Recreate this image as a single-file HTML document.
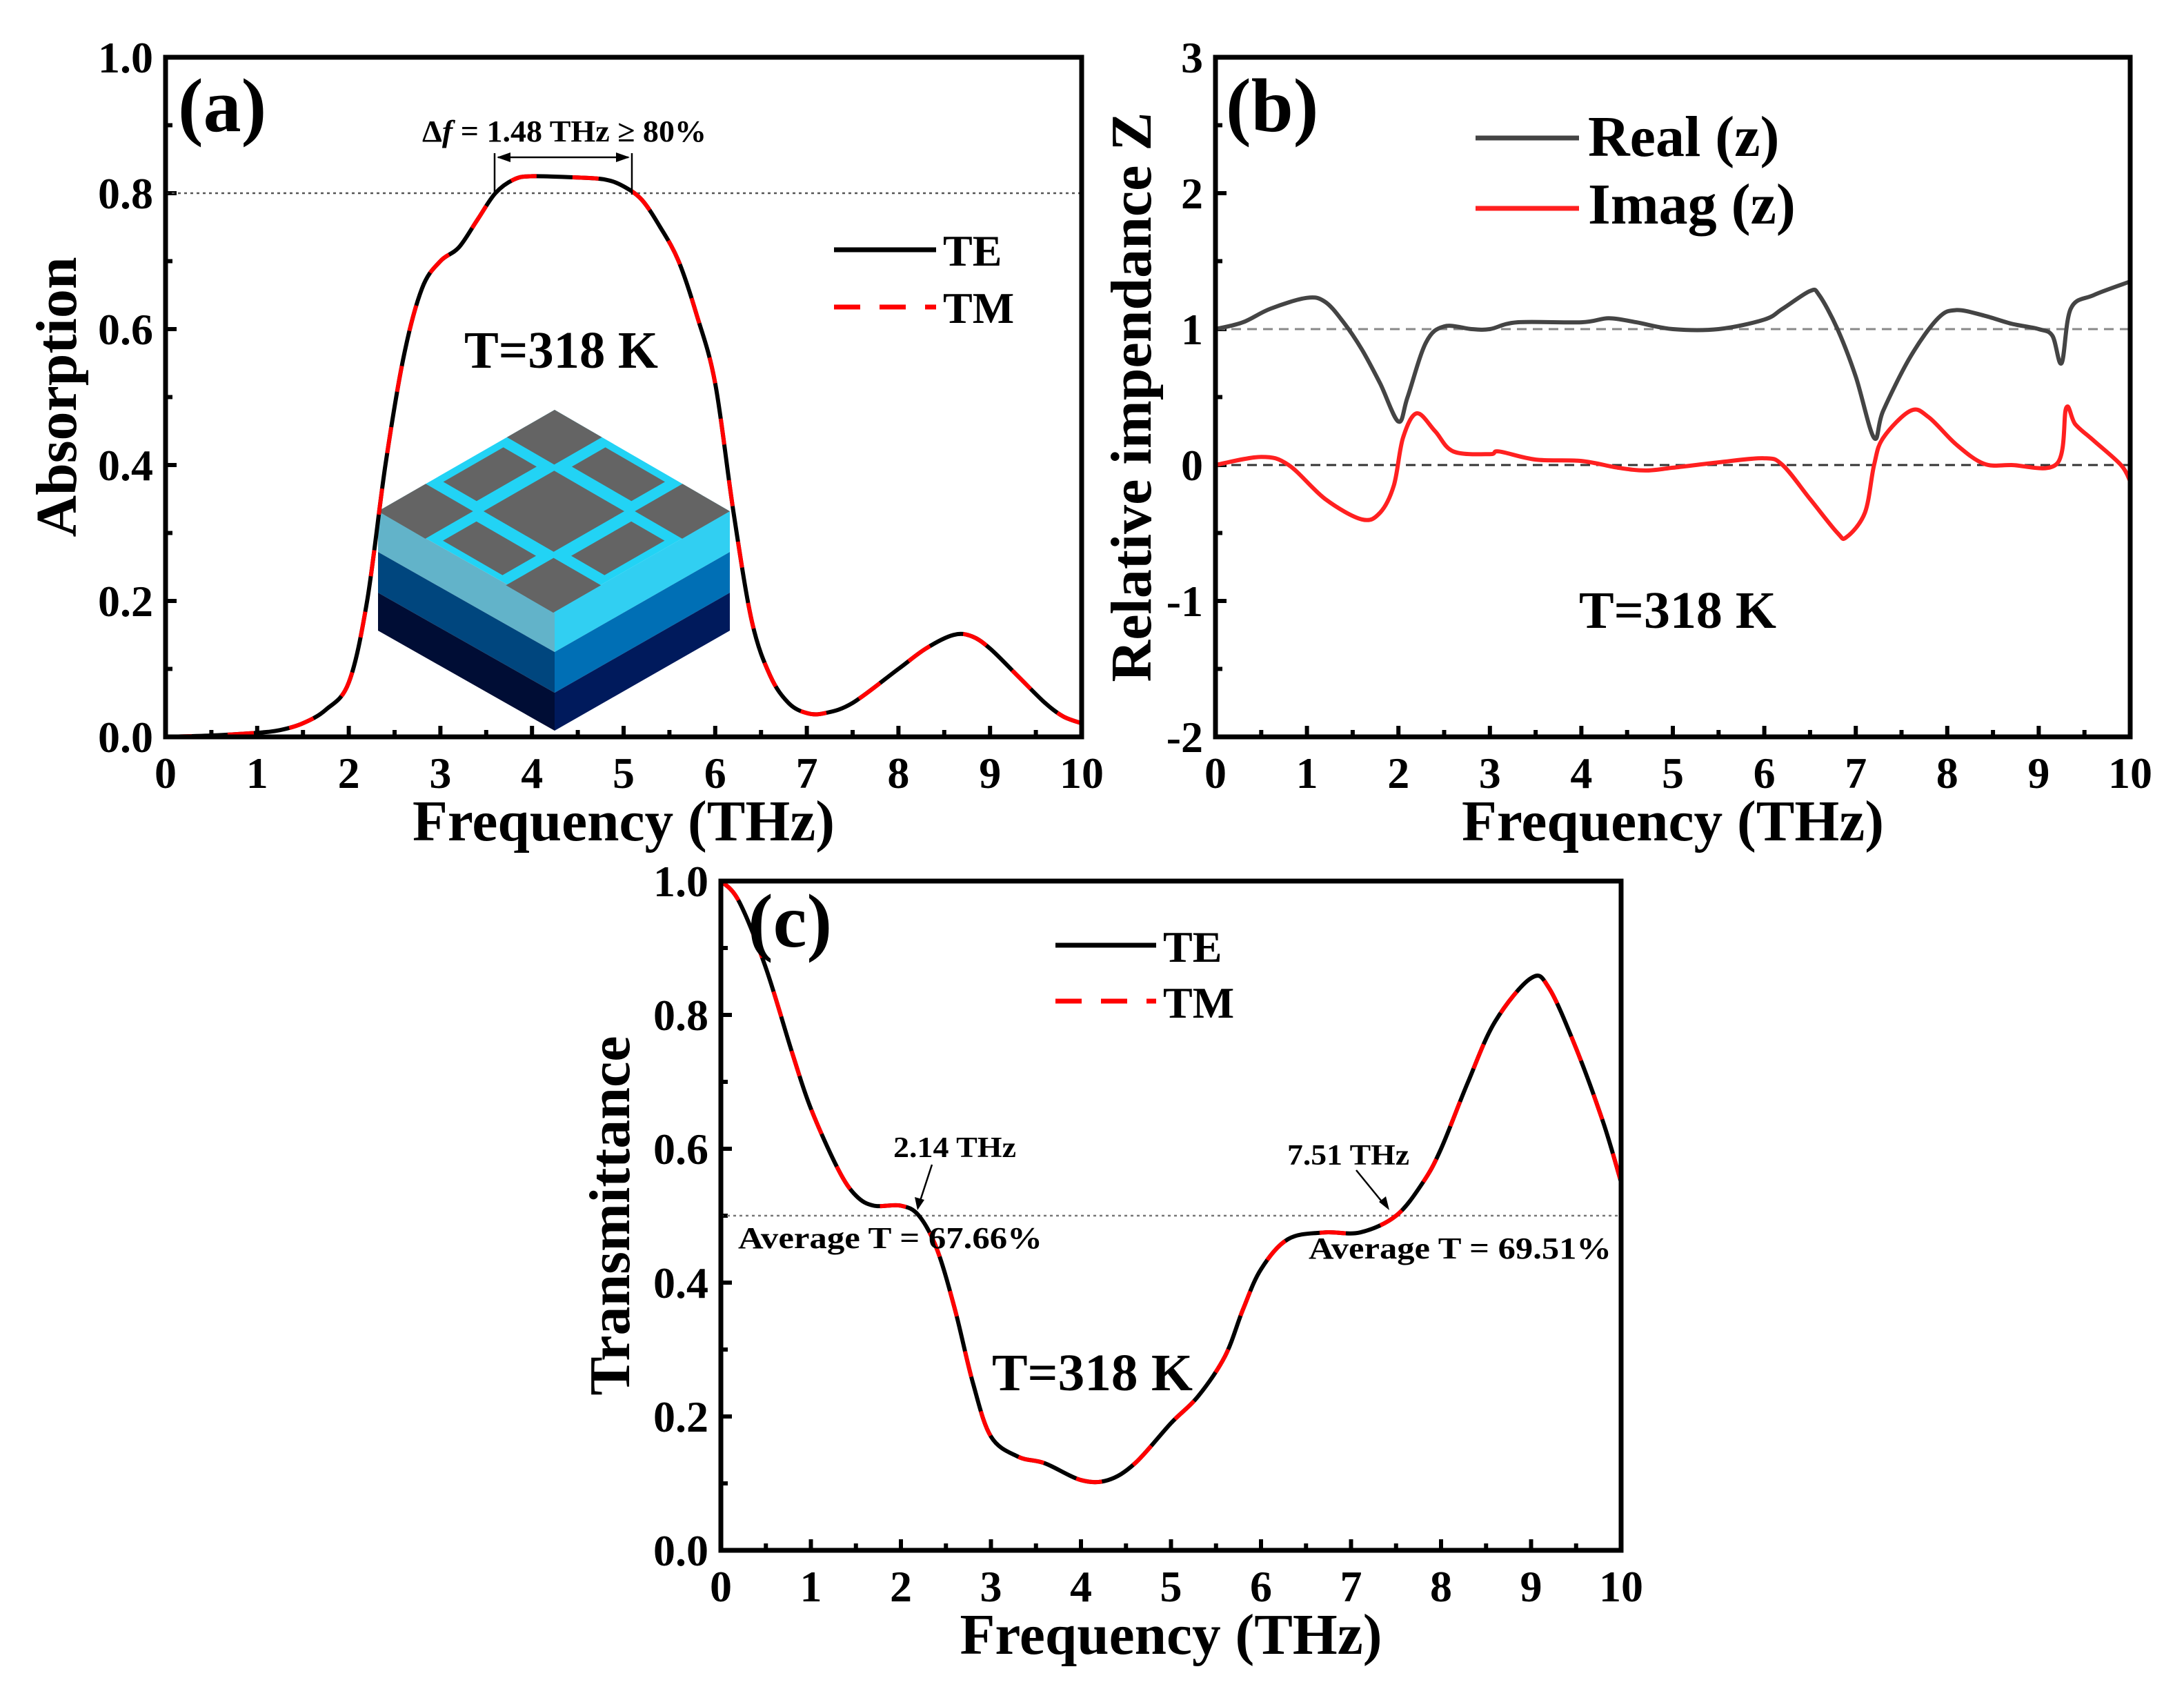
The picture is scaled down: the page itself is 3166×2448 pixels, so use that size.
<!DOCTYPE html>
<html><head><meta charset="utf-8">
<style>
html,body{margin:0;padding:0;background:#fff;}
svg{display:block;}
text{font-family:"Liberation Serif",serif;font-weight:bold;fill:#000;}
</style></head>
<body>
<svg id="fig" width="3166" height="2448" viewBox="0 0 3166 2448" xmlns="http://www.w3.org/2000/svg">
<g id="layer"></g>
</svg>
<script>
// ---- Panel (a) data: absorption ----
const freqA = [0,0.5,1,1.25,1.5,1.75,2,2.2,2.4,2.6,2.8,3,3.2,3.4,3.6,3.8,4,4.5,4.8,5,5.2,5.4,5.6,5.8,6,6.2,6.4,6.6,6.8,7,7.2,7.5,8,8.3,8.6,8.8,9,9.3,9.6,9.8,10];
const absTE = [0,0.002,0.006,0.01,0.02,0.04,0.08,0.2,0.4,0.56,0.66,0.70,0.72,0.76,0.80,0.82,0.825,0.823,0.82,0.81,0.79,0.75,0.70,0.62,0.52,0.33,0.17,0.09,0.05,0.035,0.035,0.05,0.10,0.13,0.15,0.148,0.13,0.09,0.05,0.03,0.02];
const ticksA_y = ["0.0","0.2","0.4","0.6","0.8","1.0"];
const ticksX = ["0","1","2","3","4","5","6","7","8","9","10"];
// ---- Panel (b) data: impedance ----
const freqReal = [0,0.3,0.6,1,1.2,1.4,1.6,1.8,2.0,2.1,2.3,2.5,2.8,3,3.3,4,4.3,4.6,5,5.5,6,6.2,6.5,6.6,6.8,7,7.2,7.3,7.6,7.9,8.1,8.4,8.7,9,9.15,9.25,9.35,9.6,10];
const zReal = [1.0,1.05,1.15,1.23,1.2,1.05,0.85,0.6,0.32,0.5,0.9,1.02,1.0,1.0,1.05,1.05,1.08,1.05,1.0,1.0,1.07,1.15,1.28,1.25,1.0,0.65,0.2,0.4,0.8,1.08,1.14,1.1,1.04,1.0,0.95,0.75,1.15,1.25,1.35];
const freqImag = [0,0.5,0.8,1.2,1.6,1.8,1.95,2.05,2.2,2.4,2.6,3,3.1,3.5,4,4.4,4.7,5,5.5,6,6.2,6.5,6.8,6.9,7.1,7.2,7.3,7.6,7.8,8.1,8.4,8.7,9.2,9.3,9.4,9.6,9.9,10];
const zImag = [0,0.06,0.0,-0.25,-0.4,-0.35,-0.15,0.2,0.38,0.25,0.1,0.08,0.1,0.04,0.03,-0.02,-0.04,-0.02,0.02,0.05,0.0,-0.25,-0.5,-0.53,-0.35,0.0,0.2,0.4,0.35,0.15,0.01,0.0,0.01,0.42,0.3,0.18,0.0,-0.12];
const ticksB_y = ["-2","-1","0","1","2","3"];
// ---- Panel (c) data: transmittance ----
const freqC = [0,0.2,0.5,0.8,1,1.3,1.5,1.7,2,2.2,2.4,2.6,2.8,3,3.3,3.6,4,4.3,4.6,5,5.3,5.6,5.8,6,6.3,6.7,7.1,7.5,7.8,8,8.3,8.6,9,9.2,9.5,9.8,10];
const transTE = [1.0,0.97,0.87,0.74,0.66,0.57,0.53,0.515,0.515,0.5,0.45,0.36,0.25,0.17,0.14,0.13,0.105,0.105,0.13,0.19,0.23,0.29,0.36,0.42,0.465,0.475,0.475,0.5,0.55,0.6,0.7,0.79,0.855,0.84,0.75,0.64,0.55];
const ticksC_y = ["0.0","0.2","0.4","0.6","0.8","1.0"];

const NS="http://www.w3.org/2000/svg";
const layer=document.getElementById('layer');
function mk(tag,attrs,parent){const e=document.createElementNS(NS,tag);for(const k in attrs)e.setAttribute(k,attrs[k]);(parent||layer).appendChild(e);return e;}
function txt(s,x,y,size,anchor,parent){const t=mk('text',{x:x,y:y,'font-size':size,'text-anchor':anchor||'start'},parent);t.textContent=s;return t;}
function smoothPath(xs,ys,sx,sy){
  const P=xs.map((v,i)=>[sx(v),sy(ys[i])]);
  let d='M'+P[0][0].toFixed(1)+','+P[0][1].toFixed(1);
  for(let i=0;i<P.length-1;i++){
    const p0=P[Math.max(i-1,0)],p1=P[i],p2=P[i+1],p3=P[Math.min(i+2,P.length-1)];
    const c1=[p1[0]+(p2[0]-p0[0])/6,p1[1]+(p2[1]-p0[1])/6];
    const c2=[p2[0]-(p3[0]-p1[0])/6,p2[1]-(p3[1]-p1[1])/6];
    d+=' C'+c1[0].toFixed(1)+','+c1[1].toFixed(1)+' '+c2[0].toFixed(1)+','+c2[1].toFixed(1)+' '+p2[0].toFixed(1)+','+p2[1].toFixed(1);
  }
  return d;
}
function axes(name,L,R,T,B,ymin,ymax,yt,xTitle,yTitle,yTitleX){
  const g=mk('g',{});
  
  
  const sx=v=>L+(v-0)/(10-0)*(R-L);
  const sy=v=>B-(v-ymin)/(ymax-ymin)*(B-T);
  for(let i=0;i<=20;i++){const v=i*0.5;const x=sx(v);const len=(i%2===0)?16:10;
    mk('line',{x1:x,y1:B,x2:x,y2:B-len,stroke:'#000','stroke-width':6},g);}
  const ny=yt.length-1;
  for(let i=0;i<=ny*2;i++){const v=ymin+i*(ymax-ymin)/(ny*2);const y=sy(v);const len=(i%2===0)?16:10;
    mk('line',{x1:L,y1:y,x2:L+len,y2:y,stroke:'#000','stroke-width':6},g);}
  ticksX.forEach((s,i)=>{const t=txt(s,sx(i),B+74,64,'middle',g);
    
    });
  yt.forEach((s,i)=>{const t=txt(s,L-18,sy(ymin+i*(ymax-ymin)/ny)+22,64,'end',g);
    
    });
  const xt=mk('text',{x:(L+R)/2,y:B+150,'font-size':84,'text-anchor':'middle',textLength:612,lengthAdjust:'spacingAndGlyphs'},g);
  xt.textContent=xTitle;
  
  
  const ytl=mk('text',{x:0,y:0,'font-size':84,'text-anchor':'middle',transform:'translate('+yTitleX+','+((T+B)/2)+') rotate(-90)'},g);
  ytl.textContent=yTitle;
  
  
  return {g,sx,sy,L,R,T,B};
}
function frame(p){mk('rect',{x:p.L,y:p.T,width:p.R-p.L,height:p.B-p.T,fill:'none',stroke:'#000','stroke-width':7},p.g);}
function series(p,xs,ys,name,color,dash,w){
  const e=mk('path',{d:smoothPath(xs,ys,p.sx,p.sy),fill:'none',stroke:color,'stroke-width':w||6,'stroke-dasharray':dash||'none','stroke-linejoin':'round'},p.g);
  
  
}
function legendLine(p,x1,x2,y,color,dash,label,lx,ly,size,name){
  const g=mk('g',{},p.g);
  
  
  mk('line',{x1:x1,y1:y,x2:x2,y2:y,stroke:color,'stroke-width':7,'stroke-dasharray':dash||'none'},g);
  txt(label,lx,ly,size,'start',g);
}

// ===== Panel (a) =====
const pa=axes('panel-a-absorption',240,1568,83,1068,0,1,ticksA_y,'Frequency (THz)','Absorption',110);
mk('line',{x1:pa.L,y1:pa.sy(0.8),x2:pa.R,y2:pa.sy(0.8),stroke:'#555','stroke-width':2.5,'stroke-dasharray':'4,5'},pa.g);
(function(){
  const g=mk('g',{},pa.g);
  
  
  const T=[804,594],Lv=[548,741],Rv=[1058,741],F=[804,886];
  const H=[59,59,55];
  function poly(pts,fill){mk('polygon',{points:pts.map(p=>p[0]+','+p[1]).join(' '),fill:fill},g);}
  const lc=['#62b3c9','#00467e','#000d35'],rc=['#31cff2','#006fb5','#001a5c'];
  let off=0;
  for(let i=0;i<3;i++){
    poly([[Lv[0],Lv[1]+off],[F[0],F[1]+off],[F[0],F[1]+off+H[i]],[Lv[0],Lv[1]+off+H[i]]],lc[i]);
    poly([[F[0],F[1]+off],[Rv[0],Rv[1]+off],[Rv[0],Rv[1]+off+H[i]],[F[0],F[1]+off+H[i]]],rc[i]);
    off+=H[i];
  }
  poly([T,Rv,F,Lv],'#22d3f5');
  const pt=(u,v)=>[T[0]+u*(Lv[0]-T[0])+v*(Rv[0]-T[0]),T[1]+u*(Lv[1]-T[1])+v*(Rv[1]-T[1])];
  function sq(u0,u1,v0,v1){poly([pt(u0,v0),pt(u0,v1),pt(u1,v1),pt(u1,v0)],'#646464');}
  const cells=[[0.0,0.27],[0.33,0.67],[0.73,1.0]];
  const thin=[[0.04,0.23],[0.33,0.67],[0.77,0.96]];
  for(let i=0;i<3;i++)for(let j=0;j<3;j++){
    if(i===1&&j===1){sq(0.3,0.7,0.3,0.7);}
    else if(i!==1&&j!==1){sq(cells[i][0],cells[i][1],cells[j][0],cells[j][1]);}
    else if(i===1){sq(0.33,0.67,thin[j][0],thin[j][1]);}
    else{sq(thin[i][0],thin[i][1],0.33,0.67);}
  }
})();
series(pa,freqA,absTE,'te-absorption-line','#000',null,6);
series(pa,freqA,absTE,'tm-absorption-line','#ff0000','38,52',6);
frame(pa);
(function(){
  const g=mk('g',{},pa.g);
  
  
  mk('line',{x1:717,y1:222,x2:717,y2:282,stroke:'#000','stroke-width':2.5},g);
  mk('line',{x1:916,y1:222,x2:916,y2:282,stroke:'#000','stroke-width':2.5},g);
  mk('line',{x1:722,y1:228,x2:911,y2:228,stroke:'#000','stroke-width':2.5},g);
  mk('polygon',{points:'720,228 740,221 740,235',fill:'#000'},g);
  mk('polygon',{points:'913,228 893,221 893,235',fill:'#000'},g);
  const t=mk('text',{x:612,y:205,'font-size':44,textLength:412,lengthAdjust:'spacingAndGlyphs'},g);
  t.innerHTML='Δ<tspan font-style="italic">f</tspan> = 1.48 THz ≥ 80%';
})();
const pl=txt('(a)',258,190,110,'start',pa.g);


const tka=mk('text',{x:673,y:533,'font-size':76,textLength:281,lengthAdjust:'spacingAndGlyphs'},pa.g);
tka.textContent='T=318 K';


legendLine(pa,1209,1357,362,'#000',null,'TE',1367,385,64,'legend-entry-te');
legendLine(pa,1209,1357,445,'#ff0000','38,28','TM',1367,468,64,'legend-entry-tm');

// ===== Panel (b) =====
const pb=axes('panel-b-impedance',1762,3088,83,1068,-2,3,ticksB_y,'Frequency (THz)','Relative impendance Z',1668);
mk('line',{x1:pb.L,y1:pb.sy(1),x2:pb.R,y2:pb.sy(1),stroke:'#888','stroke-width':3,'stroke-dasharray':'14,9'},pb.g);
mk('line',{x1:pb.L,y1:pb.sy(0),x2:pb.R,y2:pb.sy(0),stroke:'#333','stroke-width':3,'stroke-dasharray':'14,9'},pb.g);
series(pb,freqReal,zReal,'real-z-line','#444',null,6);
series(pb,freqImag,zImag,'imag-z-line','#ff2020',null,6);
frame(pb);
const plb=txt('(b)',1777,190,110,'start',pb.g);


legendLine(pb,2139,2289,200,'#444',null,'Real (z)',2302,226,84,'legend-entry-real');
legendLine(pb,2139,2289,302,'#ff2020',null,'Imag (z)',2302,324,84,'legend-entry-imag');
const tkb=mk('text',{x:2289,y:910,'font-size':76,textLength:286,lengthAdjust:'spacingAndGlyphs'},pb.g);
tkb.textContent='T=318 K';



// ===== Panel (c) =====
const pc=axes('panel-c-transmittance',1045,2350,1277,2247,0,1,ticksC_y,'Frequency (THz)','Transmittance',912);
mk('line',{x1:pc.L,y1:pc.sy(0.5),x2:pc.R,y2:pc.sy(0.5),stroke:'#777','stroke-width':2.5,'stroke-dasharray':'4,5'},pc.g);
series(pc,freqC,transTE,'te-transmittance-line','#000',null,6);
series(pc,freqC,transTE,'tm-transmittance-line','#ff0000','38,52',6);
frame(pc);
const plc=txt('(c)',1084,1372,110,'start',pc.g);


legendLine(pc,1530,1676,1370,'#000',null,'TE',1686,1394,64,'legend-entry-te');
legendLine(pc,1530,1676,1451,'#ff0000','38,28','TM',1686,1475,64,'legend-entry-tm');
(function(){
  const g=mk('g',{},pc.g);
  
  
  const a1=mk('text',{x:1295,y:1677,'font-size':42,textLength:178,lengthAdjust:'spacingAndGlyphs'},g);a1.textContent='2.14 THz';
  mk('line',{x1:1351,y1:1688,x2:1334,y2:1740,stroke:'#000','stroke-width':2.5},g);
  mk('polygon',{points:'1330,1754 1326,1735 1340,1739',fill:'#000'},g);
  const a2=mk('text',{x:1070,y:1809,'font-size':44,textLength:441,lengthAdjust:'spacingAndGlyphs'},g);a2.textContent='Average T = 67.66%';
  const a3=mk('text',{x:1866,y:1688,'font-size':42,textLength:177,lengthAdjust:'spacingAndGlyphs'},g);a3.textContent='7.51 THz';
  mk('line',{x1:1966,y1:1696,x2:2006,y2:1745,stroke:'#000','stroke-width':2.5},g);
  mk('polygon',{points:'2014,1754 1999,1742 2009,1734',fill:'#000'},g);
  const a4=mk('text',{x:1897,y:1824,'font-size':44,textLength:439,lengthAdjust:'spacingAndGlyphs'},g);a4.textContent='Average T = 69.51%';
})();
const tkc=mk('text',{x:1438,y:2015,'font-size':76,textLength:291,lengthAdjust:'spacingAndGlyphs'},pc.g);
tkc.textContent='T=318 K';


</script>
</body></html>
